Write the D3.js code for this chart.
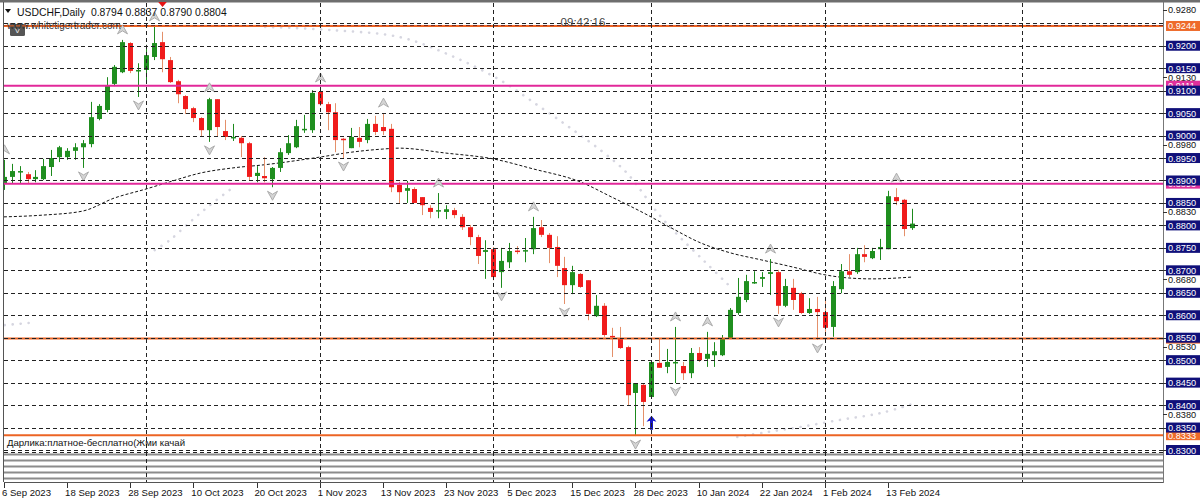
<!DOCTYPE html>
<html><head><meta charset="utf-8">
<script src="https://cdn.jsdelivr.net/npm/d3@7"></script>
<style>html,body{margin:0;padding:0;background:#fff;overflow:hidden}svg{display:block}</style>
</head><body><svg id="c" width="1200" height="499"></svg>
<script>
// ---------- DATA ----------
const opens  = [.8894,.8908,.8919,.8914,.8903,.8903,.8930,.8952,.8952,.8966,.8974,.8981,.9037,.9057,.9115,.9141,.9206,.9144,.9146,.9175,
.9208,.9168,.9121,.9088,.9061,.9039,.9012,.9081,.9010,.8995,.8995,.8983,.8910,.8910,.8903,.8928,.8961,.8974,.9013,.9012,
.9097,.9070,.9052,.8993,.8972,.8995,.8990,.9026,.9019,.9015,.8890,.8877,.8881,.8863,.8839,.8833,.8830,.8834,.8819,.8796,
.8774,.8741,.8747,.8696,.8718,.8744,.8744,.8747,.8796,.8779,.8752,.8705,.8667,.8692,.8678,.8598,.8621,.8554,.8549,.8529,
.8427,.8445,.8418,.8494,.8485,.8495,.8487,.8471,.8516,.8503,.8511,.8511,.8549,.8605,.8634,.8673,.8681,.8692,.8696,.8621,
.8661,.8649,.8605,.8614,.8607,.8574,.8658,.8698,.8696,.8736,.8727,.8747,.8747,.8863,.8857,.8794];
const highs  = [.8946,.8937,.8932,.8919,.8923,.8948,.8968,.8977,.8972,.8983,.8990,.9075,.9070,.9130,.9157,.9213,.9208,.9161,.9202,.9242,
.9231,.9175,.9124,.9090,.9064,.9041,.9084,.9081,.9035,.9026,.8999,.8986,.8932,.8952,.8930,.8972,.9001,.9035,.9046,.9101,
.9106,.9075,.9072,.8995,.9017,.9019,.9037,.9044,.9050,.9026,.8897,.8899,.8885,.8863,.8845,.8872,.8845,.8839,.8825,.8801,
.8779,.8767,.8752,.8750,.8761,.8754,.8772,.8819,.8812,.8783,.8776,.8730,.8710,.8694,.8678,.8645,.8627,.8572,.8574,.8532,
.8449,.8449,.8500,.8549,.8525,.8574,.8496,.8527,.8529,.8563,.8540,.8556,.8616,.8683,.8690,.8698,.8696,.8725,.8701,.8681,
.8681,.8652,.8638,.8641,.8641,.8676,.8714,.8736,.8750,.8756,.8750,.8770,.8877,.8883,.8859,.8837];
const lows   = [.8879,.8894,.8894,.8892,.8896,.8901,.8910,.8941,.8946,.8946,.8928,.8974,.9034,.9052,.9110,.9139,.9139,.9086,.9117,.9168,
.9141,.9117,.9072,.9048,.9030,.8997,.8986,.8997,.8990,.8988,.8952,.8901,.8896,.8896,.8885,.8919,.8957,.8972,.9006,.9006,
.9066,.9012,.8963,.8950,.8972,.8974,.8983,.9001,.9001,.8874,.8850,.8850,.8850,.8823,.8816,.8816,.8814,.8816,.8790,.8756,
.8714,.8681,.8678,.8661,.8705,.8736,.8718,.8736,.8774,.8716,.8685,.8625,.8647,.8661,.8589,.8596,.8552,.8507,.8525,.8400,
.8331,.8353,.8416,.8483,.8471,.8449,.8456,.8460,.8496,.8485,.8485,.8509,.8547,.8601,.8629,.8670,.8663,.8645,.8603,.8618,
.8612,.8603,.8603,.8545,.8563,.8552,.8649,.8685,.8692,.8718,.8725,.8723,.8747,.8845,.8776,.8790];
const closes = [.8908,.8921,.8921,.8903,.8908,.8932,.8950,.8974,.8966,.8974,.8983,.9041,.9066,.9112,.9153,.9208,.9144,.9146,.9179,.9206,
.9170,.9119,.9092,.9059,.9039,.9012,.9081,.9019,.8997,.8997,.8983,.8908,.8917,.8905,.8928,.8963,.8983,.9021,.9015,.9095,
.9070,.9052,.8990,.8992,.8997,.8986,.9026,.9008,.9010,.8885,.8874,.8883,.8850,.8845,.8830,.8834,.8836,.8823,.8796,.8774,
.8732,.8745,.8685,.8721,.8743,.8742,.8745,.8794,.8779,.8750,.8710,.8667,.8696,.8663,.8603,.8621,.8556,.8552,.8527,.8422,
.8449,.8407,.8496,.8483,.8496,.8496,.8471,.8516,.8500,.8514,.8520,.8547,.8612,.8641,.8676,.8674,.8685,.8696,.8621,.8665,
.8634,.8605,.8614,.8607,.8572,.8665,.8698,.8690,.8736,.8730,.8743,.8752,.8865,.8854,.8792,.8804];

// moving average (read at sampled bars)
const maIdx  = [0,5,10,14,18,21,25,29,33,40,44,48,50,56,62,67,73,77,81,85,88,92,96,100,104,107,110,115];
const maVals = [.8819,.8823,.8832,.8861,.8881,.8897,.8917,.8928,.8935,.8952,.8963,.8970,.8972,.8961,.8948,.8926,.8897,.8863,.8828,.8790,.8763,.8739,.8723,.8707,.8690,.8683,.8681,.8685];

// faint dotted curve segments [bar, price]
const dotSegA = [[0.1,.8578],[3.3,.8583]];
const dotSegB = [[19.1,.8745],[21.0,.8767],[23.6,.8808],[26.1,.8845],[28.6,.8879]];
const dotSegC = [[33.1,.9242],[41.3,.9235],[50.2,.9219],[56.5,.9179],[62.8,.9124],[67.9,.9064],[71.9,.9015],[75.9,.8963],[78.9,.8917],[82.8,.8828],[85.0,.8785],[88.8,.8719],[91.8,.8667]];
const dotSegD = [[92.9,.8329],[96.7,.8340],[100.8,.8351],[105.9,.8367],[111,.8382],[115,.8402]];

const upFractals   = [0,15,19,26,40,48,55,67,85,89,97,113];
const downFractals = [10,17,26,34,43,63,71,80,85,98,103];

const buySignalBar = 82, buySignalPrice = 0.8376;
const sellSignalBar = 20, sellSignalPrice = 0.9286;

const dateTickIdx    = [0,8,16,24,32,40,48,56,64,72,80,88,96,104,112];
const dateTickLabels = ["6 Sep 2023","18 Sep 2023","28 Sep 2023","10 Oct 2023","20 Oct 2023","1 Nov 2023","13 Nov 2023","23 Nov 2023","5 Dec 2023","15 Dec 2023","28 Dec 2023","10 Jan 2024","22 Jan 2024","1 Feb 2024","13 Feb 2024"];
const monthGridIdx   = [18,40,62,82,104,129];

const gridPrices  = [0.9250,0.9200,0.9150,0.9100,0.9050,0.9000,0.8950,0.8900,0.8850,0.8800,0.8750,0.8700,0.8650,0.8600,0.8550,0.8500,0.8450,0.8400,0.8350,0.8300];
const boxLabels   = ["0.9200","0.9150","0.9100","0.9050","0.9000","0.8950","0.8900","0.8850","0.8800","0.8750","0.8700","0.8650","0.8600","0.8550","0.8500","0.8450","0.8400","0.8350","0.8300"];
const plainLabels = ["0.9280","0.9130","0.8980","0.8830","0.8680","0.8530","0.8380"];
const orangeLevels = [0.9244,0.8548,0.8333];
const orangeLabels = ["0.9244","0.8548","0.8333"];
const pinkLevels   = [0.9111,0.8893];
const pinkLabels   = ["0.9111","0.8893"];

const headerText = "USDCHF,Daily  0.8794 0.8837 0.8790 0.8804";
const siteText = "www.whitetigertrader.com";
const clockText = "09:42:16";
const noteText = "Дарлика:платное-бесплатно(Жми качай";

// ---------- DRAW ----------
const svg = d3.select("#c");
const FONT = "'Liberation Sans', Arial, sans-serif";
const L = 4, R = 1163, T = 3, B = 451;
const x = d3.scaleLinear().domain([0,115]).range([3.9, 911.8]);
const y = d3.scaleLinear().domain([0.8300,0.9280]).range([450, 9.8]);

svg.append("rect").attr("width",1200).attr("height",499).attr("fill","#fff");
const defs = svg.append("defs");
defs.append("clipPath").attr("id","plot").append("rect").attr("x",L).attr("y",T).attr("width",R-L).attr("height",B-T);

// frame
svg.append("rect").attr("x",0).attr("y",0).attr("width",1200).attr("height",2.5).attr("fill","#6e6e6e");
svg.append("line").attr("x1",3.5).attr("x2",3.5).attr("y1",2).attr("y2",482).attr("stroke","#555");

const g = svg.append("g").attr("clip-path","url(#plot)");

// horizontal grid
svg.append("g").selectAll("line").data(gridPrices).join("line")
  .attr("x1",L).attr("x2",R).attr("y1",d=>Math.round(y(d))+0.5).attr("y2",d=>Math.round(y(d))+0.5)
  .attr("stroke","#222").attr("stroke-dasharray","4,3");
// vertical grid
svg.append("g").selectAll("line").data(monthGridIdx).join("line")
  .attr("x1",d=>Math.round(x(d))+0.5).attr("x2",d=>Math.round(x(d))+0.5).attr("y1",T).attr("y2",482)
  .attr("stroke","#222").attr("stroke-dasharray","4,3");

// dotted faint curves
const dotLine = d3.line().x(d=>x(d[0])).y(d=>y(d[1])).curve(d3.curveCatmullRom);
[dotSegA,dotSegB,dotSegC,dotSegD].forEach(seg=>{
  g.append("path").attr("d",dotLine(seg)).attr("fill","none").attr("stroke","#d6d6e0")
   .attr("stroke-width",2.6).attr("stroke-linecap","round").attr("stroke-dasharray","0.1,7.9");
});

// moving average
const maLine = d3.line().x((d,i)=>x(maIdx[i])).y(d=>y(d)).curve(d3.curveMonotoneX);
g.append("path").attr("d",maLine(maVals)).attr("fill","none").attr("stroke","#111").attr("stroke-width",1).attr("stroke-dasharray","3,2");

// candles
const bars = d3.range(opens.length);
const cg = g.append("g");
cg.selectAll("line.w").data(bars).join("line").attr("class","w")
  .attr("x1",i=>Math.round(x(i))+0.5).attr("x2",i=>Math.round(x(i))+0.5)
  .attr("y1",i=>y(highs[i])).attr("y2",i=>y(lows[i]))
  .attr("stroke",i=>closes[i]>=opens[i]?"#1d8a1d":"#e4906a").attr("stroke-width",1);
cg.selectAll("rect.b").data(bars).join("rect").attr("class","b")
  .attr("x",i=>Math.round(x(i))-2).attr("width",5)
  .attr("y",i=>y(Math.max(opens[i],closes[i])))
  .attr("height",i=>Math.max(1.5,Math.abs(y(opens[i])-y(closes[i]))))
  .attr("fill",i=>closes[i]>=opens[i]?"#1f8f1f":"#f01c1c");

// level lines
g.selectAll("line.o").data(orangeLevels).join("line").attr("class","o")
  .attr("x1",L).attr("x2",R).attr("y1",d=>y(d)).attr("y2",d=>y(d))
  .attr("stroke","#ec6424").attr("stroke-width",2);
g.selectAll("line.p").data(pinkLevels).join("line").attr("class","p")
  .attr("x1",L).attr("x2",R).attr("y1",d=>y(d)).attr("y2",d=>y(d))
  .attr("stroke","#e2289a").attr("stroke-width",2);
// dashed overlay at top orange level (grid over it)
g.append("line").attr("x1",L).attr("x2",R).attr("y1",y(orangeLevels[0])-0.5).attr("y2",y(orangeLevels[0])-0.5)
  .attr("stroke","#7a2a20").attr("stroke-dasharray","4,3").attr("stroke-width",1);

// fractals
const upPath = (cx,cy)=>`M${cx},${cy-5}L${cx+5},${cy+4}L${cx},${cy+1}L${cx-5},${cy+4}Z`;
const dnPath = (cx,cy)=>`M${cx},${cy+5}L${cx+5},${cy-4}L${cx},${cy-1}L${cx-5},${cy-4}Z`;
g.selectAll("path.fu").data(upFractals).join("path").attr("class","fu")
  .attr("d",i=>upPath(Math.round(x(i))+0.5, y(highs[i])-10))
  .attr("fill","#d4d4d4").attr("stroke","#a6a6a6").attr("stroke-width",0.9);
g.selectAll("path.fd").data(downFractals).join("path").attr("class","fd")
  .attr("d",i=>dnPath(Math.round(x(i))+0.5, y(lows[i])+8))
  .attr("fill","#d4d4d4").attr("stroke","#a6a6a6").attr("stroke-width",0.9);

// buy signal (blue arrow)
{
  const cx = Math.round(x(buySignalBar))+0.5, ty = y(buySignalPrice);
  g.append("path").attr("d",`M${cx},${ty}L${cx+5},${ty+6}L${cx+1.5},${ty+5}L${cx+1.5},${ty+14}L${cx-1.5},${ty+14}L${cx-1.5},${ty+5}L${cx-5},${ty+6}Z`)
   .attr("fill","#1414c8");
}
// sell signal (red marker at top)
{
  const cx = Math.round(x(sellSignalBar))+0.5, ty = y(sellSignalPrice);
  svg.append("path").attr("d",`M${cx},${ty}L${cx+6},${ty-7}L${cx+2},${ty-6}L${cx+2},${ty-14}L${cx-2},${ty-14}L${cx-2},${ty-6}L${cx-6},${ty-7}Z`)
   .attr("fill","#e61414");
  svg.append("rect").attr("x",0).attr("y",0).attr("width",1200).attr("height",2).attr("fill","#6e6e6e");
}

// sub-window strip
const sub = svg.append("g");
sub.append("rect").attr("x",L).attr("y",452).attr("width",R-L).attr("height",30).attr("fill","#fff");
[454.5,460.5,466.5,472.5,478.5].forEach(v=>{
  sub.append("line").attr("x1",L).attr("x2",R).attr("y1",v).attr("y2",v).attr("stroke","#8c8c8c").attr("stroke-width",2.2);
});
sub.append("line").attr("x1",L).attr("x2",R).attr("y1",452.5).attr("y2",452.5).attr("stroke","#222").attr("stroke-dasharray","4,3");
sub.append("line").attr("x1",L).attr("x2",R).attr("y1",482.5).attr("y2",482.5).attr("stroke","#555");
sub.selectAll("line.vg").data(monthGridIdx).join("line").attr("class","vg")
  .attr("x1",d=>Math.round(x(d))+0.5).attr("x2",d=>Math.round(x(d))+0.5).attr("y1",452).attr("y2",482)
  .attr("stroke","#222").attr("stroke-dasharray","4,3");

// right axis
svg.append("line").attr("x1",R+0.5).attr("x2",R+0.5).attr("y1",2).attr("y2",483).attr("stroke","#777");
const ax = svg.append("g").attr("font-family",FONT).attr("font-size",9.2);
const allTicks = plainLabels.concat(boxLabels);
ax.selectAll("line.t").data(allTicks).join("line").attr("class","t")
  .attr("x1",R).attr("x2",R+4).attr("y1",d=>Math.round(y(+d))+0.5).attr("y2",d=>Math.round(y(+d))+0.5).attr("stroke","#333");
ax.selectAll("text.pl").data(plainLabels).join("text").attr("class","pl")
  .attr("x",R+5).attr("y",d=>y(+d)+3.5).attr("fill","#111").text(d=>d);
function boxes(levels,labels,color,cls){
  const gg = ax.append("g");
  levels.forEach((lv,k)=>{
    gg.append("rect").attr("x",R+3).attr("y",y(lv)-5).attr("width",34).attr("height",10).attr("fill",color);
    gg.append("text").attr("x",R+5).attr("y",y(lv)+3.5).attr("fill","#fff").text(labels[k]);
  });
}
boxes(orangeLevels,orangeLabels,"#ee6a2a");
boxes(pinkLevels,pinkLabels,"#e2309c");
boxes(boxLabels.map(Number),boxLabels,"#10107a");

// date axis
const dx = svg.append("g").attr("font-family",FONT).attr("font-size",9.6).attr("fill","#111");
dx.selectAll("line").data(dateTickIdx).join("line")
  .attr("x1",i=>Math.round(x(i))+0.5).attr("x2",i=>Math.round(x(i))+0.5).attr("y1",483).attr("y2",488).attr("stroke","#333");
dx.selectAll("text").data(dateTickIdx).join("text")
  .attr("x",i=>x(i)-2).attr("y",496).text((i,k)=>dateTickLabels[k]);

// header texts
svg.append("path").attr("d","M5,9L11,9L8,13Z").attr("fill","#111");
svg.append("text").attr("x",17).attr("y",16).attr("font-family",FONT).attr("font-size",10.4).attr("fill","#111").attr("xml:space","preserve").style("white-space","pre").text(headerText);
svg.append("rect").attr("x",10).attr("y",24).attr("width",15).attr("height",12).attr("rx",1.5).attr("fill","#555");
svg.append("text").attr("x",17.5).attr("y",33).attr("text-anchor","middle").attr("font-family",FONT).attr("font-size",8).attr("fill","#eee").text("V");
svg.append("text").attr("x",7).attr("y",29).attr("font-family",FONT).attr("font-size",10).attr("fill","#333").text(siteText);
svg.append("line").attr("x1",L).attr("x2",130).attr("y1",y(orangeLevels[0])).attr("y2",y(orangeLevels[0])).attr("stroke","#ec6424").attr("stroke-width",1.2).attr("stroke-dasharray","4,2").attr("opacity",0.8);
svg.append("text").attr("x",583).attr("y",26).attr("text-anchor","middle").attr("font-family",FONT).attr("font-size",11.5).attr("fill","#444").text(clockText);
svg.append("text").attr("x",7).attr("y",446).attr("font-family",FONT).attr("font-size",9.6).attr("fill","#111").text(noteText);
</script></body></html>
